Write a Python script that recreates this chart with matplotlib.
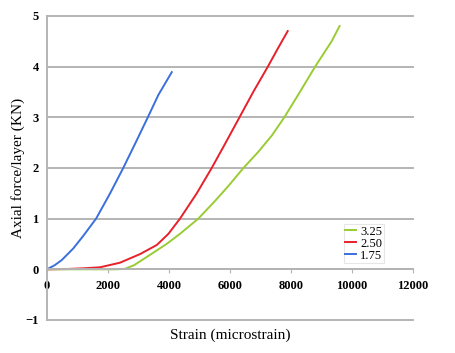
import numpy as np
import matplotlib
matplotlib.use('Agg')
import matplotlib.pyplot as plt

# curves: strain (microstrain) vs axial force/layer (KN)
blue_x = [0, 250, 480, 860, 1190, 1610, 2070, 2500, 2890, 3290, 3650, 4090]
blue_y = [0, 0.08, 0.18, 0.41, 0.66, 1.0, 1.5, 2.0, 2.48, 2.98, 3.44, 3.89]

red_x = [0, 600, 1200, 1740, 2390, 3050, 3600, 3980, 4360, 4910, 5400, 5840, 6310, 6770, 7240, 7560, 7890]
red_y = [0, 0.005, 0.02, 0.04, 0.13, 0.30, 0.48, 0.70, 1.0, 1.5, 2.0, 2.48, 3.0, 3.51, 4.0, 4.35, 4.7]

green_x = [0, 1500, 2300, 2560, 2850, 3160, 3920, 4360, 4960, 5510, 5940, 6440, 6930, 7370, 7780, 8300, 8790, 9330, 9590]
green_y = [0, 0, 0, 0.01, 0.08, 0.2, 0.5, 0.7, 1.0, 1.35, 1.64, 2.0, 2.32, 2.64, 3.0, 3.51, 4.0, 4.5, 4.8]

x_ticks = [0, 2000, 4000, 6000, 8000, 10000, 12000]
y_ticks = [-1, 0, 1, 2, 3, 4, 5]

plt.rcParams['font.family'] = ['Liberation Serif', 'DejaVu Serif']

fig = plt.figure(figsize=(4.56, 3.53), dpi=100)
ax = fig.add_axes([0.103, 0.0935, 0.803, 0.8615])

for y in y_ticks:
    ax.axhline(y, color='#b4b4b4', lw=1.4, zorder=0, clip_on=False)

ax.plot(green_x, green_y, color='#99cc33', lw=1.4, label='3.25')
ax.plot(red_x, red_y, color='#e8202a', lw=1.4, label='2.50')
ax.plot(blue_x, blue_y, color='#3a6fdc', lw=1.4, label='1.75')

ax.set_xlim(0, 12000)
ax.set_ylim(-1, 5)
ax.set_xticks(x_ticks)
ax.set_yticks(y_ticks)

for s in ['top', 'right']:
    ax.spines[s].set_visible(False)
ax.spines['bottom'].set_position(('data', 0))
ax.spines['bottom'].set_color('#b4b4b4')
ax.spines['bottom'].set_linewidth(1.4)
ax.spines['left'].set_color('#b4b4b4')
ax.spines['left'].set_linewidth(1.4)

ax.tick_params(axis='x', direction='out', length=3, color='#b4b4b4', pad=5)
ax.tick_params(axis='y', length=0, pad=6)
for lab in ax.get_xticklabels() + ax.get_yticklabels():
    lab.set_fontweight('bold')
    lab.set_fontsize(9)

ax.set_ylabel('Axial force/layer (KN)', fontsize=11, labelpad=0)
ax.set_xlabel('Strain (microstrain)', fontsize=11, labelpad=26)

leg = ax.legend(loc='upper left', bbox_to_anchor=(0.793, 0.335), fontsize=9,
                handlelength=0.9, handletextpad=0.3, labelspacing=0.0,
                borderpad=0.12, frameon=True, fancybox=False)
leg.get_frame().set_edgecolor('#e0e0e0')
leg.get_frame().set_linewidth(0.8)

plt.savefig('out.png', dpi=100)
